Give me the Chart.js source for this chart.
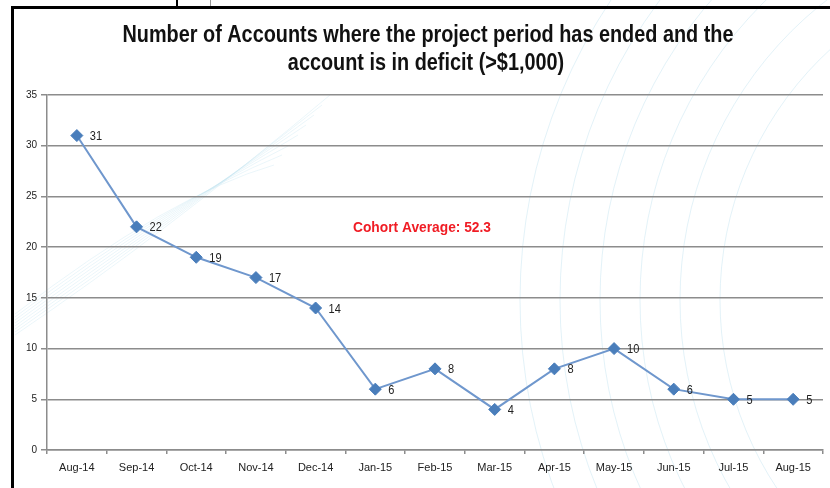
<!DOCTYPE html>
<html>
<head>
<meta charset="utf-8">
<script src="https://cdn.jsdelivr.net/npm/chart.js@4"></script>
<style>
  html, body { margin: 0; padding: 0; background: #fff; }
  #wrap { position: relative; width: 830px; height: 488px; }
</style>
</head>
<body>
<div id="wrap"><canvas id="chart" width="830" height="488"></canvas></div>
<script>
const months = ['Aug-14', 'Sep-14', 'Oct-14', 'Nov-14', 'Dec-14', 'Jan-15', 'Feb-15',
  'Mar-15', 'Apr-15', 'May-15', 'Jun-15', 'Jul-15', 'Aug-15'];
const accounts = [31, 22, 19, 17, 14, 6, 8, 4, 8, 10, 6, 5, 5];
const yTicks = [0, 5, 10, 15, 20, 25, 30, 35];
const titleLines = ['Number of Accounts where the project period has ended and the',
  'account is in deficit (>$1,000)'];
const note = 'Cohort Average: 52.3';

const SANS = '"Liberation Sans", Arial, sans-serif';

// draw text squeezed horizontally, like the narrow font of the original
function narrowText(ctx, text, cx, y, sx) {
  ctx.save();
  ctx.translate(cx, y);
  ctx.scale(sx, 1);
  ctx.textAlign = 'center';
  ctx.fillText(text, 0, 0);
  ctx.restore();
}

// slide frame, faint background swirls, title and note
const decor = {
  id: 'decor',
  beforeDraw(chart) {
    const ctx = chart.ctx;
    ctx.save();
    ctx.fillStyle = '#fff';
    ctx.fillRect(0, 0, chart.width, chart.height);
    ctx.strokeStyle = 'rgba(185, 222, 238, 0.4)';
    ctx.lineWidth = 1;
    for (let r = 340; r <= 540; r += 40) {
      ctx.beginPath();
      ctx.arc(1060, 300, r, 0, Math.PI * 2);
      ctx.stroke();
    }
    ctx.strokeStyle = 'rgba(190, 225, 238, 0.3)';
    for (let i = 0; i < 8; i++) {
      ctx.beginPath();
      ctx.moveTo(15, 335 - i * 3);
      ctx.quadraticCurveTo(170, 230 - i * 5, 330 - i * 8, 95 + i * 10);
      ctx.stroke();
    }
    ctx.restore();
  },
  afterDraw(chart) {
    const ctx = chart.ctx;
    ctx.save();
    ctx.fillStyle = '#000';
    ctx.fillRect(11, 6, chart.width - 11, 3);
    ctx.fillRect(11, 6, 3, chart.height - 6);
    ctx.fillRect(176, 0, 2, 7);
    ctx.fillStyle = '#999';
    ctx.fillRect(210, 0, 1, 6);

    ctx.fillStyle = '#111';
    ctx.textBaseline = 'alphabetic';
    ctx.font = 'bold 23px ' + SANS;
    const sx = 611 / ctx.measureText(titleLines[0]).width;
    narrowText(ctx, titleLines[0], 428, 42, sx);
    narrowText(ctx, titleLines[1], 426, 70, sx);

    ctx.fillStyle = '#f01c24';
    ctx.font = 'bold 15px ' + SANS;
    const nx = 138 / ctx.measureText(note).width;
    narrowText(ctx, note, 422, 232, nx);
    ctx.restore();
  }
};

// value labels to the right of each point
const valueLabels = {
  id: 'valueLabels',
  afterDatasetsDraw(chart) {
    const ctx = chart.ctx;
    const meta = chart.getDatasetMeta(0);
    ctx.save();
    ctx.fillStyle = '#222';
    ctx.font = '13px ' + SANS;
    ctx.textAlign = 'left';
    ctx.textBaseline = 'middle';
    meta.data.forEach((pt, i) => {
      ctx.save();
      ctx.translate(pt.x + 13, pt.y + 1);
      ctx.scale(0.85, 1);
      ctx.fillText(String(accounts[i]), 0, 0);
      ctx.restore();
    });
    ctx.restore();
  }
};

new Chart(document.getElementById('chart'), {
  type: 'line',
  data: {
    labels: months,
    datasets: [{
      data: accounts,
      borderColor: '#6f97cd',
      borderWidth: 2,
      pointStyle: 'rectRot',
      pointRadius: 6,
      pointHoverRadius: 6,
      pointBackgroundColor: '#4a7ebb',
      pointBorderColor: '#4a7ebb',
      pointBorderWidth: 1,
      tension: 0,
    }],
  },
  options: {
    responsive: false,
    animation: false,
    events: [],
    layout: { padding: { left: 20, right: 3, top: 95, bottom: 0 } },
    plugins: {
      legend: { display: false },
      title: { display: false },
      tooltip: { enabled: false },
    },
    scales: {
      x: {
        offset: true,
        grid: {
          offset: true,
          drawOnChartArea: false,
          color: '#8c8c8c',
          tickLength: 4,
          lineWidth: 1.5,
        },
        border: { color: '#8c8c8c', width: 1.5 },
        ticks: {
          color: '#222',
          font: { family: SANS, size: 11 },
          padding: 7,
          maxRotation: 0,
          autoSkip: false,
        },
        afterFit(scale) { scale.height = 38; },
      },
      y: {
        min: 0,
        max: 35,
        afterBuildTicks(scale) { scale.ticks = yTicks.map(v => ({ value: v })); },
        grid: {
          color: '#8c8c8c',
          lineWidth: 1.5,
          tickLength: 6,
        },
        border: { color: '#8c8c8c', width: 1.5 },
        ticks: {
          color: '#222',
          font: { family: SANS, size: 10 },
          padding: 4,
        },
        afterFit(scale) { scale.width = 27; },
      },
    },
  },
  plugins: [decor, valueLabels],
});
</script>
</body>
</html>
